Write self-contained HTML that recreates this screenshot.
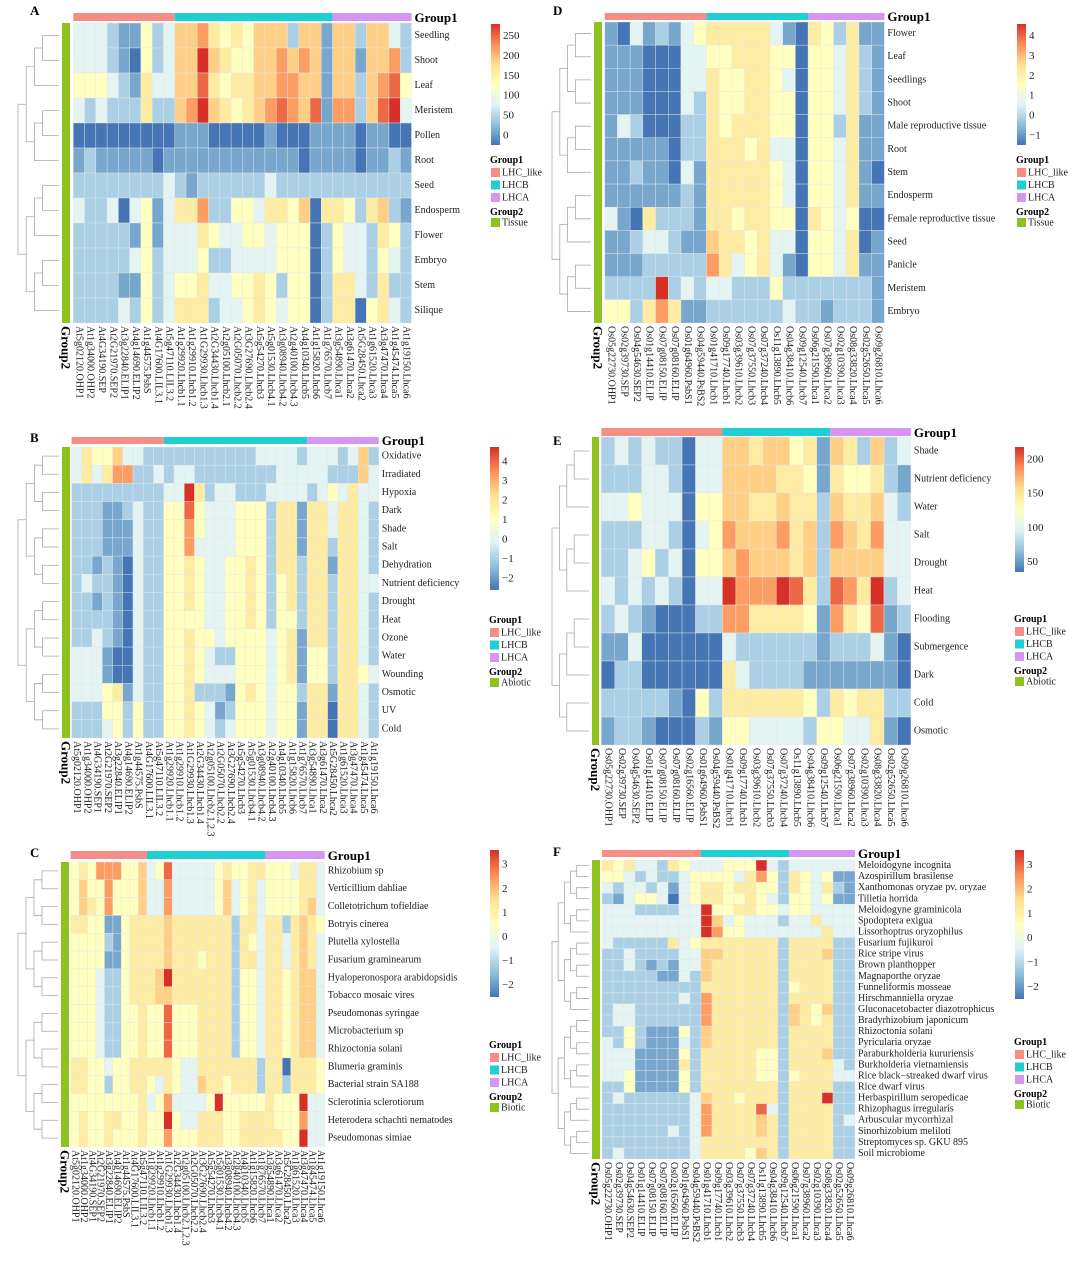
<!DOCTYPE html>
<html><head><meta charset="utf-8"><style>
html,body{margin:0;padding:0;background:#fff;}
svg{display:block;font-family:"Liberation Serif",serif;}
</style></head><body>
<svg id="fig" width="1080" height="1261" viewBox="0 0 1080 1261" xmlns="http://www.w3.org/2000/svg"></svg>
<script>
// ---------- data ----------
const atCols=["At5g02120.OHP1","At1g34000.OHP2","At4G34190.SEP","At2G21970.SEP2","At3g22840.ELIP1","At4g14690.ELIP2","At1g44575.PsbS","At4G17600.LIL3.1","At5g47110.LIL3.2","At1g29920.Lhcb1.1","At1g29910.Lhcb1.2","At1G29930.Lhcb1.3","At2G34430.Lhcb1.4","At2g05100.Lhcb2.1","At2G05070.Lhcb2.2","At3G27690.Lhcb2.4","At5g54270.Lhcb3","At5g01530.Lhcb4.1","At3g08940.Lhcb4.2","At2g40100.Lhcb4.3","At4g10340.Lhcb5","At1g15820.Lhcb6","At1g76570.Lhcb7","At3g54890.Lhca1","At3g61470.Lhca2","At5G28450.Lhca2","At1g61520.Lhca3","At3g47470.Lhca4","At1g45474.Lhca5","At1g19150.Lhca6"];
const atColsB=["At5g02120.OHP1","At1g34000.OHP2","At4G34190.SEP1","At2G21970.SEP2","At3g22840.ELIP1","At4g14690.ELIP2","At1g44575.PsbS","At4G17600.LIL3.1","At5g47110.LIL3.2","At1g29920.Lhcb1.1","At1g29910.Lhcb1.2","At1G29930.Lhcb1.3","At2G34430.Lhcb1.4","At2g05100.Lhcb2.1,2.3","At2G05070.Lhcb2.2","At3G27690.Lhcb2.4","At5g54270.Lhcb3","At5g01530.Lhcb4.1","At3g08940.Lhcb4.2","At2g40100.Lhcb4.3","At4g10340.Lhcb5","At1g15820.Lhcb6","At1g76570.Lhcb7","At3g54890.Lhca1","At3g61470.Lhca2","At5G28450.Lhca2","At1g61520.Lhca3","At3g47470.Lhca4","At1g45474.Lhca5","At1g19150.Lhca6"];
const osColsD=["Os05g22730.OHP1","Os02g39730.SEP","Os04g54630.SEP2","Os01g14410.ELIP","Os07g08150.ELIP","Os07g08160.ELIP","Os01g64960.PsbS1","Os04g59440.PsBS2","Os01g41710.Lhcb1","Os09g17740.Lhcb1","Os03g39610.Lhcb2","Os07g37550.Lhcb3","Os07g37240.Lhcb4","Os11g13890.Lhcb5","Os04g38410.Lhcb6","Os09g12540.Lhcb7","Os06g21590.Lhca1","Os07g38960.Lhca2","Os02g10390.Lhca3","Os08g33820.Lhca4","Os02g52650.Lhca5","Os09g26810.Lhca6"];
const osColsE=["Os05g22730.OHP1","Os02g39730.SEP","Os04g54630.SEP2","Os01g14410.ELIP","Os07g08150.ELIP","Os07g08160.ELIP","Os02g16560.ELIP","Os01g64960.PsbS1","Os04g59440.PsBS2","Os01g41710.Lhcb1","Os09g17740.Lhcb1","Os03g39610.Lhcb2","Os07g37550.Lhcb3","Os07g37240.Lhcb4","Os11g13890.Lhcb5","Os04g38410.Lhcb6","Os09g12540.Lhcb7","Os06g21590.Lhca1","Os07g38960.Lhca2","Os02g10390.Lhca3","Os08g33820.Lhca4","Os02g52650.Lhca5","Os09g26810.Lhca6"];

const aRows=["Seedling","Shoot","Leaf","Meristem","Pollen","Root","Seed","Endosperm","Flower","Embryo","Stem","Silique"];
const aVals=["333211423 66754546662661 6626632","333210423 66965446676761 6616672","444321533 66854556677661 6626784","323222522 67965456787681 7726893","000000000 11100000100011 1101100","121111101 11111111111011 1101121","222222223 21222222322222 2222222","322303413 55722443554605 5425621","222221413 33543344344402 4332542","222223423 33422333344402 4332432","222211423 44533445424402 5532522","222232423 55523345434402 5504532"];

const bRows=["Oxidative","Irradiated","Hypoxia","Dark","Shade","Salt","Dehydration","Nutrient deficiency","Drought","Heat","Ozone","Water","Wounding","Osmotic","UV","Cold"];
const bVals=["354463322 22222222233332 3332362","353577223 23322222222333 3322263","222222222 33952332223333 2343533","222112322 44843334442551 5535532","222111322 44743334442551 5535532","222111322 44733334442551 5525532","221210322 44543344542552 5515532","232210322 44543344542452 5525533","221210322 44543344542452 5525532","222210322 44443344542442 5525532","223210322 44544344443451 5525532","333100322 44543224443451 4425532","333100322 44543334443451 4425543","333451322 44522214543442 5515532","222442422 44543124443441 5505532","222342422 44543234443441 5505532"];

const cRows=["Rhizobium sp","Verticillium dahliae","Colletotrichum tofieldiae","Botryis cinerea","Plutella xylostella","Fusarium graminearum","Hyaloperonospora arabidopsidis","Tobacco mosaic vires","Pseudomonas syringae","Microbacterium sp","Rhizoctonia solani","Blumeria graminis","Bacterial strain SA188","Sclerotinia sclerotiorum","Heterodera schachti nematodes","Pseudomonas simiae"];
const cVals=["454777446 34833333454455 4443553","464474446 33733333463453 4444553","465474446 33733333463453 4444563","554411455 55655555552553 5525654","444421455 55655555552543 5535653","444411455 55655545552553 5535653","444322455 56955555552443 5545663","444322455 56655555552443 5545663","444322445 44844455552443 5545663","444322445 44844455552443 5545663","444322445 44844455552443 5545663","554434455 55543355555552 5505554","554424455 43543365545552 5525554","444444445 34733334944444 5444933","454455445 44943355544555 5444733","454454445 44744455544555 5544933"];

const dRows=["Flower","Leaf","Seedlings","Shoot","Male reproductive tissue","Root","Stem","Endosperm","Female reproductive tissue","Seed","Panicle","Meristem","Embryo"];
const dVals=["10312134 55555310 542511","11100033 44555440 443521","11100033 54455430 443521","11100032 54455440 443521","13200022 54555440 442511","11111022 55545330 443511","11211031 55555430 443510","11111121 55555430 443511","31052221 55455440 543400","11233211 65545330 443501","11122222 75345310 443511","22229232 33222422 222221","44257511 22222232 212221"];

const eRows=["Shade","Nutrient deficiency","Water","Salt","Drought","Heat","Flooding","Submergence","Dark","Cold","Osmotic"];
const eVals=["232322033 66566451 652623","222332033 66665541 544521","334333044 66556552 655632","222332034 76667562 765733","223423044 67666562 666633","323232033 97779852 875923","232100022 77555541 754812","113000000 32222221 222310","022000000 53222211 111110","222221042 55555542 545522","122100021 44333324 433510"];

const fRows=["Meloidogyne incognita","Azospirillum brasilense","Xanthomonas oryzae pv. oryzae","Tilletia horrida","Meloidogyne graminicola","Spodoptera exigua","Lissorhoptrus oryzophilus","Fusarium fujikuroi","Rice stripe virus","Brown planthopper","Magnaporthe oryzae","Funneliformis mosseae","Hirschmanniella oryzae","Gluconacetobacter diazotrophicus","Bradyrhizobium japonicum","Rhizoctonia solani","Pyricularia oryzae","Paraburkholderia kururiensis","Burkholderia vietnamiensis","Rice black\u2212streaked dwarf virus","Rice dwarf virus","Herbaspirillum seropedicae","Rhizophagus irregularis","Arbuscular mycorrhizal","Sinorhizobium meliloti","Streptomyces sp. GKU 895","Soil microbiome"];
const fVals=["545332543 33444932 333333","443232234 44435742 543411","323323134 55455442 543521","213443034 55445432 443411","333222233 94455443 443333","333333333 96343332 335333","333333333 97443333 333533","322222534 55555552 555522","223222233 66555552 555622","223212133 65555552 555522","222221132 65555552 555522","222222222 55555552 455522","222222232 75555552 555522","233222222 75555552 654622","233222222 75555552 654522","224211142 65555552 555522","324211132 65555552 555522","333111142 55555442 555622","333111152 55555442 555532","334111142 55555442 455533","224111142 55555552 555522","232222223 65545552 555922","222222223 75555832 555522","222222223 75555652 555523","222222323 75555652 555522","222222223 55555552 555522","232222223 55554652 555522"];

const aTicks=["250","200","150","100","50","0"];
const bTicks=["4","3","2","1","0","\u22121","\u22122"];
const cTicks=["3","2","1","0","\u22121","\u22122"];
const dTicks=["4","3","2","1","0","\u22121"];
const eTicks=["200","150","100","50"];
const fTicks=["3","2","1","0","\u22121","\u22122"];

// ---------- rendering ----------
const NS="http://www.w3.org/2000/svg";
const svg=document.getElementById('fig');
const pal=[[69,117,180],[145,191,219],[224,243,248],[255,255,191],[254,224,144],[252,141,89],[215,48,39]];
const levelPos=[0,0.67,1.33,2.1,3.0,3.6,4.2,4.8,5.4,6];
function colr(d){const t=levelPos[Math.max(0,Math.min(9,d))];const i=Math.min(5,Math.floor(t));const f=t-i;const a=pal[i],b=pal[i+1];
 return 'rgb('+[0,1,2].map(k=>Math.round(a[k]+(b[k]-a[k])*f)).join(',')+')';}
function mk(tag,attrs,parent){const e=document.createElementNS(NS,tag);for(const k in attrs)e.setAttribute(k,attrs[k]);(parent||svg).appendChild(e);return e;}
function txt(s,attrs,parent){const e=mk('text',attrs,parent);e.textContent=s;return e;}

const defs=mk('defs',{});
const lg=mk('linearGradient',{id:'cbar',x1:'0',y1:'1',x2:'0',y2:'0'},defs);
pal.forEach((c,i)=>mk('stop',{offset:(i/6),'stop-color':'rgb('+c.join(',')+')'},lg));

const groupCols=['#F58E86','#1FCFD2','#D795F2'];
const groupNames=['LHC_like','LHCB','LHCA'];

const panels=[
 {id:'a',letter:'A',lx:30,ly:15,rows:aRows,vals:aVals,cols:atCols,groups:[9,14,7],x0:73.3,x1:411.5,by0:13,by1:22,y0:23,y1:323,gx0:62,gx1:70,dx0:18,cbx:491,cby0:24,cby1:145,ticks:aTicks,legY:163,g2:'Tissue'},
 {id:'b',letter:'B',lx:30,ly:442,rows:bRows,vals:bVals,cols:atColsB,groups:[9,14,7],x0:71.6,x1:378.8,by0:437,by1:445,y0:447,y1:738,gx0:62,gx1:70,dx0:18,cbx:490,cby0:447,cby1:590,ticks:bTicks,legY:623,g2:'Abiotic'},
 {id:'c',letter:'C',lx:30,ly:857,rows:cRows,vals:cVals,cols:atColsB,groups:[9,14,7],x0:70.6,x1:324.7,by0:851,by1:860,y0:862,y1:1147,gx0:61,gx1:69,dx0:18,cbx:490,cby0:850,cby1:997,ticks:cTicks,legY:1048,g2:'Biotic'},
 {id:'d',letter:'D',lx:553,ly:15,rows:dRows,vals:dVals,cols:osColsD,groups:[8,8,6],x0:604.7,x1:884.4,by0:13,by1:21,y0:22,y1:323,gx0:594,gx1:602,dx0:552,cbx:1017,cby0:24,cby1:145,ticks:dTicks,legY:163,g2:'Tissue'},
 {id:'e',letter:'E',lx:553,ly:445,rows:eRows,vals:eVals,cols:osColsE,groups:[9,8,6],x0:601.3,x1:910.9,by0:428,by1:437,y0:437,y1:745,gx0:592,gx1:599,dx0:552,cbx:1015,cby0:447,cby1:572,ticks:eTicks,legY:622,g2:'Abiotic'},
 {id:'f',letter:'F',lx:553,ly:856,rows:fRows,vals:fVals,cols:osColsE,groups:[9,8,6],x0:602,x1:855,by0:850,by1:858,y0:860,y1:1159,gx0:592,gx1:600,dx0:552,cbx:1015,cby0:850,cby1:999,ticks:fTicks,legY:1045,g2:'Biotic'}
];

function dendro(g,p,lo,hi,depth,maxDepth){
 const rh=(p.y1-p.y0)/p.rows.length;
 const xr=p.gx0-3;
 if(lo===hi){return {y:p.y0+rh*(lo+0.5),x:xr};}
 const mid=Math.floor((lo+hi)/2);
 const a=dendro(g,p,lo,mid,depth+1,maxDepth),b=dendro(g,p,mid+1,hi,depth+1,maxDepth);
 const x=p.dx0+(xr-p.dx0)*(depth/(maxDepth+1));
 const l=mk('path',{d:`M${a.x},${a.y}H${x}V${b.y}H${b.x}`,fill:'none',stroke:'#a8a8a8','stroke-width':'0.8'},g);
 
 
 return {y:(a.y+b.y)/2,x:x};
}

panels.forEach(p=>{
 const g=mk('g',{});
 
 
 const nR=p.rows.length,nC=p.cols.length;
 const cw=(p.x1-p.x0)/nC,rh=(p.y1-p.y0)/nR;
 const lt=txt(p.letter,{x:p.lx,y:p.ly,'font-size':'13','font-weight':'bold'},g);
 
 
 let c0=0;
 p.groups.forEach((n,gi)=>{
  const r=mk('rect',{x:p.x0+c0*cw,y:p.by0,width:n*cw,height:p.by1-p.by0-1,fill:groupCols[gi]},g);
  
  
  c0+=n;
 });
 const g1=txt('Group1',{x:p.x1+3,y:p.by1,'font-size':'13','font-weight':'bold'},g);
 
 
 const gb=mk('rect',{x:p.gx0,y:p.y0,width:p.gx1-p.gx0,height:p.y1-p.y0,fill:'#8DC21F'},g);
 
 
 const g2=txt('Group2',{x:(p.gx0+p.gx1)/2,y:p.y1+3,'font-size':'13','font-weight':'bold','dominant-baseline':'central',transform:`rotate(90 ${(p.gx0+p.gx1)/2} ${p.y1+3})`},g);
 
 
 p.vals.forEach((s,ri)=>{
  const ds=s.replace(/\s/g,'');
  for(let ci=0;ci<nC;ci++){
   const v=+ds[ci];
   const r=mk('rect',{x:p.x0+ci*cw,y:p.y0+ri*rh,width:cw,height:rh,fill:colr(v),stroke:'#e6e6e6','stroke-width':'0.4'},g);
   
   
  }
 });
 p.rows.forEach((name,ri)=>{
  const t=txt(name,{x:p.x1+3,y:p.y0+(ri+0.5)*rh,'font-size':'10','dominant-baseline':'central',fill:'#222'},g);
  
  
 });
 p.cols.forEach((name,ci)=>{
  const cx=p.x0+(ci+0.5)*cw,cy=p.y1+3;
  const t=txt(name,{x:cx,y:cy,'font-size':'10','dominant-baseline':'central',fill:'#222',transform:`rotate(90 ${cx} ${cy})`},g);
  
  
 });
 const md=Math.ceil(Math.log2(nR));
 dendro(g,p,0,nR-1,0,md);
 const cb=mk('rect',{x:p.cbx,y:p.cby0,width:9,height:p.cby1-p.cby0,fill:'url(#cbar)'},g);
 
 
 const nt=p.ticks.length;
 const span=(p.cby1-p.cby0);
 p.ticks.forEach((tk,i)=>{
  const y=p.cby0+span*0.1+i*(span*0.82)/(nt-1);
  const t=txt(tk,{x:p.cbx+12,y:y,'font-size':'11','dominant-baseline':'central',fill:'#222'},g);
  
  
 });
 const lx=p.cbx-1,ly=p.legY;
 const lt1=txt('Group1',{x:lx,y:ly,'font-size':'10','font-weight':'bold'},g);
 
 
 groupNames.forEach((n,i)=>{
  const yy=ly+5+i*12.5;
  const sw=mk('rect',{x:lx+1,y:yy,width:9,height:9,fill:groupCols[i]},g);
  
  
  const t=txt(n,{x:lx+12,y:yy+7.5,'font-size':'10',fill:'#222'},g);
  
  
 });
 const lt2=txt('Group2',{x:lx,y:ly+52,'font-size':'10','font-weight':'bold'},g);
 
 
 const sw2=mk('rect',{x:lx+1,y:ly+55,width:9,height:9,fill:'#8DC21F'},g);
 
 
 const t2=txt(p.g2,{x:lx+12,y:ly+62.5,'font-size':'10',fill:'#222'},g);
 
 
});
</script>
</body></html>
